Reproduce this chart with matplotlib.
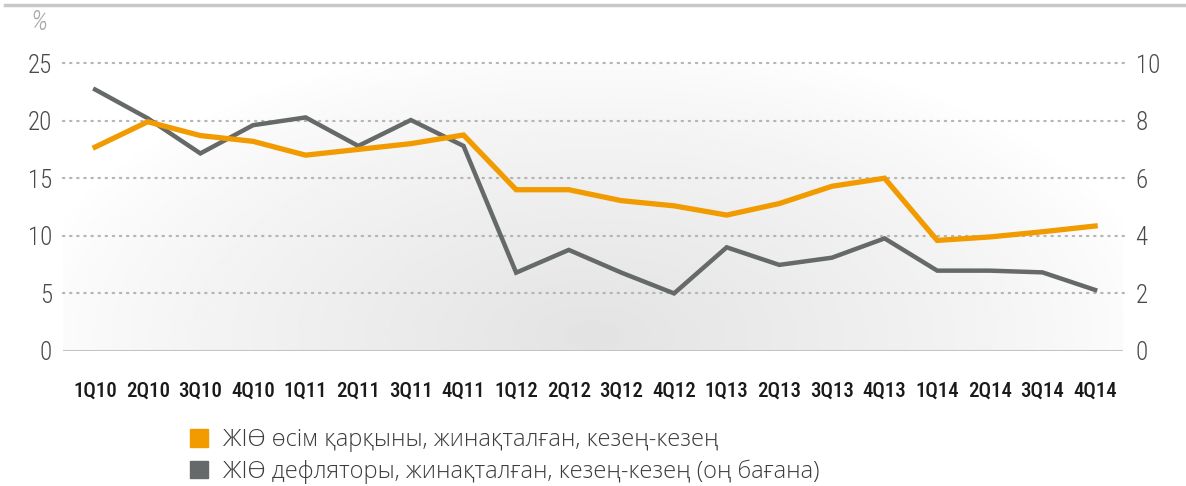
import numpy as np
import matplotlib
matplotlib.use("Agg")
import matplotlib.pyplot as plt
from matplotlib.patches import Patch
from matplotlib.lines import Line2D

# data
quarters = ["1Q10", "2Q10", "3Q10", "4Q10", "1Q11", "2Q11", "3Q11", "4Q11",
            "1Q12", "2Q12", "3Q12", "4Q12", "1Q13", "2Q13", "3Q13", "4Q13",
            "1Q14", "2Q14", "3Q14", "4Q14"]
gdp_growth = [17.7, 19.9, 18.7, 18.2, 17.0, 17.5, 18.0, 18.75,
              14.0, 14.0, 13.05, 12.6, 11.8, 12.8, 14.3, 15.0,
              9.6, 9.9, 10.35, 10.85]
gdp_deflator = [9.08, 8.08, 6.86, 7.84, 8.11, 7.12, 8.02, 7.12,
                2.72, 3.51, 2.72, 2.0, 3.6, 2.99, 3.24, 3.91,
                2.79, 2.79, 2.73, 2.12]
left_ticks = [0, 5, 10, 15, 20, 25]
right_ticks = [0, 2, 4, 6, 8, 10]
legend_labels = ["ЖІӨ өсім қарқыны, жинақталған, кезең-кезең",
                 "ЖІӨ дефляторы, жинақталған, кезең-кезең (оң бағана)"]

orange = "#F29B00"
grey = "#666969"
num_font = ["Roboto Condensed", "DejaVu Sans"]
txt_font = ["Open Sans", "DejaVu Sans"]

W, H = 1186, 486
fig = plt.figure(figsize=(W / 100, H / 100), dpi=100)
rect = [63 / W, 1 - 351 / H, (1123 - 63) / W, (351 - 63) / H]

# soft radial background on its own axes behind everything
bg = fig.add_axes(rect, zorder=0)
nx, ny = 400, 120
xx, yy = np.meshgrid(np.linspace(0, 1, nx), np.linspace(0, 1, ny))
d = np.sqrt(((xx - 0.5) / 0.55) ** 2 + ((yy - 0.05) / 1.05) ** 2)
shade = 1 - 0.11 * np.clip(1 - d, 0, 1) ** 0.8
bg.imshow(shade, cmap="gray", vmin=0, vmax=1, origin="lower",
          extent=[0, 1, 0, 1], aspect="auto", interpolation="bilinear")
bg.set_xlim(0, 1)
bg.set_ylim(0, 1)
bg.axis("off")

ax2 = fig.add_axes(rect, zorder=1)   # right scale, grey line
ax = fig.add_axes(rect, zorder=2)    # left scale, orange line on top
ax2.patch.set_visible(False)
ax.patch.set_visible(False)

x = np.arange(len(quarters))
for a in (ax, ax2):
    a.set_xlim(-0.61, 19.53)
    for s in a.spines.values():
        s.set_visible(False)
ax.set_ylim(0, 25)
ax2.set_ylim(0, 10)

for v in left_ticks[1:]:
    ax2.axhline(v * 10 / 25, xmax=1.004, color="#b5b5b5", lw=1.6,
                ls=(0, (0.6, 2.6)), dash_capstyle="round", zorder=1, clip_on=False)
ax2.axhline(0, color="#c4c4c4", lw=2.2, zorder=1)

ax2.plot(x, gdp_deflator, color=grey, lw=3.2, zorder=2, solid_joinstyle="miter")
ax.plot(x, gdp_growth, color=orange, lw=3.8, zorder=3, solid_joinstyle="miter")

ax.set_yticks(left_ticks)
ax.set_yticklabels([str(t) for t in left_ticks], family=num_font, fontsize=18,
                   fontweight="light", color="#4a4a4a")
ax.tick_params(axis="y", length=0, pad=8)

ax2.yaxis.tick_right()
ax2.set_yticks(right_ticks)
ax2.set_yticklabels([str(t) for t in right_ticks], family=num_font, fontsize=18,
                    fontweight="light", color="#4a4a4a")
ax2.tick_params(axis="y", length=0, pad=9)
ax2.set_xticks([])

ax.set_xticks(x)
ax.set_xticklabels(quarters, family=num_font, fontsize=15, fontweight="medium",
                   color="#1a1a1a")
ax.tick_params(axis="x", length=0, pad=22)

fig.text(30 / W, 1 - 22 / H, "%", family=num_font, fontsize=20, style="italic",
         fontweight="light", color="#a8a8a8", va="center")

# top rule
fig.add_artist(Line2D([5 / W, 1.0], [1 - 5 / H] * 2, color="#c8c8c8", lw=2.5))

handles = [Patch(color=orange), Patch(color=grey)]
fig.legend(handles, legend_labels, loc="center left",
           bbox_to_anchor=(190 / W, 1 - 456 / H), frameon=False,
           prop={"family": txt_font, "size": 17, "weight": "light"},
           handlelength=0.78, handleheight=0.78, handletextpad=0.6,
           labelspacing=0.3, labelcolor="#3c3c3c", borderpad=0, borderaxespad=0)

fig.savefig("out.png", dpi=100)
